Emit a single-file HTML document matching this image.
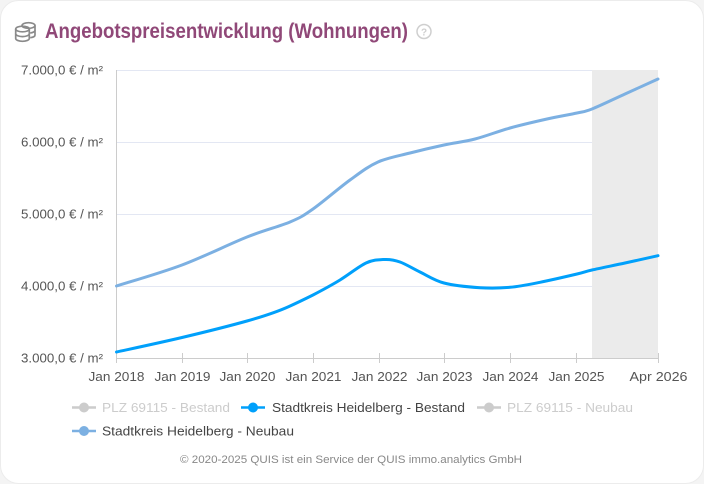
<!DOCTYPE html>
<html><head><meta charset="utf-8"><style>
html,body{margin:0;padding:0;background:#f4f4f4;}
body{width:704px;height:484px;overflow:hidden;}
svg{display:block;}
</style></head><body>
<svg width="704" height="484" viewBox="0 0 704 484" xmlns="http://www.w3.org/2000/svg" font-family="'Liberation Sans', sans-serif">
<rect x="0.5" y="0.5" width="703" height="483" rx="18" ry="18" fill="#ffffff" stroke="#ececec"/>
<!-- icon -->
<g fill="none" stroke="#8a8a8a" stroke-width="1.7">
<ellipse cx="28.5" cy="25.5" rx="6.5" ry="2.8"/>
<path d="M35 25.5v9.5c0 1.3-2 2.4-4.8 2.7"/>
<path d="M35 30.3c0 1.3-2 2.4-4.8 2.7"/>
<ellipse cx="22.5" cy="29" rx="6.8" ry="2.8"/>
<path d="M15.7 29v9.5c0 1.5 3 2.8 6.8 2.8s6.8-1.3 6.8-2.8v-9.5"/>
<path d="M15.7 33.8c0 1.5 3 2.8 6.8 2.8s6.8-1.3 6.8-2.8"/>
</g>
<text x="45" y="38" font-size="21" font-weight="bold" fill="#904878" textLength="363" lengthAdjust="spacingAndGlyphs">Angebotspreisentwicklung (Wohnungen)</text>
<circle cx="424" cy="31.5" r="7" fill="none" stroke="#cfcfcf" stroke-width="1.5"/>
<text x="424" y="35.5" font-size="10" font-weight="bold" fill="#cfcfcf" text-anchor="middle">?</text>

<!-- grid -->
<g stroke="#e3e7f3" stroke-width="1">
<line x1="116.5" y1="70.5" x2="658" y2="70.5"/>
<line x1="116.5" y1="142.5" x2="658" y2="142.5"/>
<line x1="116.5" y1="214.5" x2="658" y2="214.5"/>
<line x1="116.5" y1="286.5" x2="658" y2="286.5"/>
</g>
<rect x="592" y="70" width="66" height="288" fill="#ebebeb"/>
<!-- axes -->
<line x1="116.5" y1="70" x2="116.5" y2="358" stroke="#cccccc" stroke-width="1"/>
<line x1="116" y1="358.5" x2="658.5" y2="358.5" stroke="#cccccc" stroke-width="1"/>
<g stroke="#cccccc" stroke-width="1">
<line x1="116.5" y1="353" x2="116.5" y2="363"/>
<line x1="182.5" y1="353" x2="182.5" y2="363"/>
<line x1="247.5" y1="353" x2="247.5" y2="363"/>
<line x1="313.5" y1="353" x2="313.5" y2="363"/>
<line x1="379.5" y1="353" x2="379.5" y2="363"/>
<line x1="444.5" y1="353" x2="444.5" y2="363"/>
<line x1="510.5" y1="353" x2="510.5" y2="363"/>
<line x1="576.5" y1="353" x2="576.5" y2="363"/>
<line x1="658.5" y1="353" x2="658.5" y2="363"/>
</g>
<!-- y labels -->
<g font-size="13" fill="#555555" text-anchor="end">
<text x="103" y="74.5" textLength="82" lengthAdjust="spacingAndGlyphs">7.000,0 € / m²</text>
<text x="103" y="146.5" textLength="82" lengthAdjust="spacingAndGlyphs">6.000,0 € / m²</text>
<text x="103" y="218.5" textLength="82" lengthAdjust="spacingAndGlyphs">5.000,0 € / m²</text>
<text x="103" y="290.5" textLength="82" lengthAdjust="spacingAndGlyphs">4.000,0 € / m²</text>
<text x="103" y="362.5" textLength="82" lengthAdjust="spacingAndGlyphs">3.000,0 € / m²</text>
</g>
<!-- x labels -->
<g font-size="13" fill="#555555" text-anchor="middle">
<text x="116.5" y="381" textLength="56" lengthAdjust="spacingAndGlyphs">Jan 2018</text>
<text x="182.5" y="381" textLength="56" lengthAdjust="spacingAndGlyphs">Jan 2019</text>
<text x="247.5" y="381" textLength="56" lengthAdjust="spacingAndGlyphs">Jan 2020</text>
<text x="313.5" y="381" textLength="56" lengthAdjust="spacingAndGlyphs">Jan 2021</text>
<text x="379.5" y="381" textLength="56" lengthAdjust="spacingAndGlyphs">Jan 2022</text>
<text x="444.5" y="381" textLength="56" lengthAdjust="spacingAndGlyphs">Jan 2023</text>
<text x="510.5" y="381" textLength="56" lengthAdjust="spacingAndGlyphs">Jan 2024</text>
<text x="576.5" y="381" textLength="56" lengthAdjust="spacingAndGlyphs">Jan 2025</text>
<text x="658.5" y="381" textLength="58" lengthAdjust="spacingAndGlyphs">Apr 2026</text>
</g>
<!-- series: Neubau -->
<path fill="none" stroke="#7cb0e2" stroke-width="3" stroke-linejoin="round" stroke-linecap="round"
d="M116.5,286 C127.4,282.5 160.25,273.17 182,265 C203.75,256.83 229,244.17 247,237 C265,229.83 279,226.67 290,222 C301,217.33 303,216 313,209 C323,202 339.17,187.83 350,180 C360.83,172.17 368,166.5 378,162 C388,157.5 399,155.83 410,153 C421,150.17 433.17,147.33 444,145 C454.83,142.67 464,141.83 475,139 C486,136.17 498,131.33 510,128 C522,124.67 535.83,121.5 547,119 C558.17,116.5 569.5,114.67 577,113 C584.5,111.33 584,112.17 592,109 C600,105.83 614,99 625,94 C636,89 652.5,81.5 658,79"/>
<!-- series: Bestand -->
<path fill="none" stroke="#00a0fb" stroke-width="3" stroke-linejoin="round" stroke-linecap="round"
d="M116.5,352 C127.4,349.6 160.25,342.67 182,337.5 C203.75,332.33 229.5,325.92 247,321 C264.5,316.08 278,311.5 289,306.5 C300,301.5 306,298.5 313,295 C322,290.3 331,285.5 340,280 C349,274.5 358.5,266.58 366,263 C373.5,259.42 379.33,259.67 385,259.5 C390.67,259.33 394.17,259.92 400,262 C405.83,264.08 412.67,268.5 420,272 C427.33,275.5 434,280.38 444,283 C454,285.62 469,286.98 480,287.7 C491,288.42 500,288.2 510,287.3 C520,286.4 528.83,284.52 540,282.3 C551.17,280.08 568.33,276.05 577,274 C585.67,271.95 584,271.83 592,270 C600,268.17 614,265.38 625,263 C636,260.62 652.5,256.92 658,255.7"/>

<!-- legend -->
<g stroke-width="2.5">
<line x1="72" y1="407.5" x2="96" y2="407.5" stroke="#cccccc"/>
<circle cx="84" cy="407.5" r="5" fill="#cccccc" stroke="none"/>
<line x1="241" y1="407.5" x2="265" y2="407.5" stroke="#00a0fb"/>
<circle cx="253" cy="407.5" r="5" fill="#00a0fb" stroke="none"/>
<line x1="477" y1="407.5" x2="501" y2="407.5" stroke="#cccccc"/>
<circle cx="489" cy="407.5" r="5" fill="#cccccc" stroke="none"/>
<line x1="72" y1="431" x2="96" y2="431" stroke="#7cb0e2"/>
<circle cx="84" cy="431" r="5" fill="#7cb0e2" stroke="none"/>
</g>
<g font-size="13">
<text x="102" y="412" fill="#cccccc" textLength="128" lengthAdjust="spacingAndGlyphs">PLZ 69115 - Bestand</text>
<text x="272" y="412" fill="#444444" textLength="193" lengthAdjust="spacingAndGlyphs">Stadtkreis Heidelberg - Bestand</text>
<text x="507" y="412" fill="#cccccc" textLength="126" lengthAdjust="spacingAndGlyphs">PLZ 69115 - Neubau</text>
<text x="102" y="435.5" fill="#444444" textLength="192" lengthAdjust="spacingAndGlyphs">Stadtkreis Heidelberg - Neubau</text>
</g>
<text x="351" y="463" font-size="11" fill="#888888" text-anchor="middle" textLength="342" lengthAdjust="spacingAndGlyphs">© 2020-2025 QUIS ist ein Service der QUIS immo.analytics GmbH</text>
</svg>
</body></html>
